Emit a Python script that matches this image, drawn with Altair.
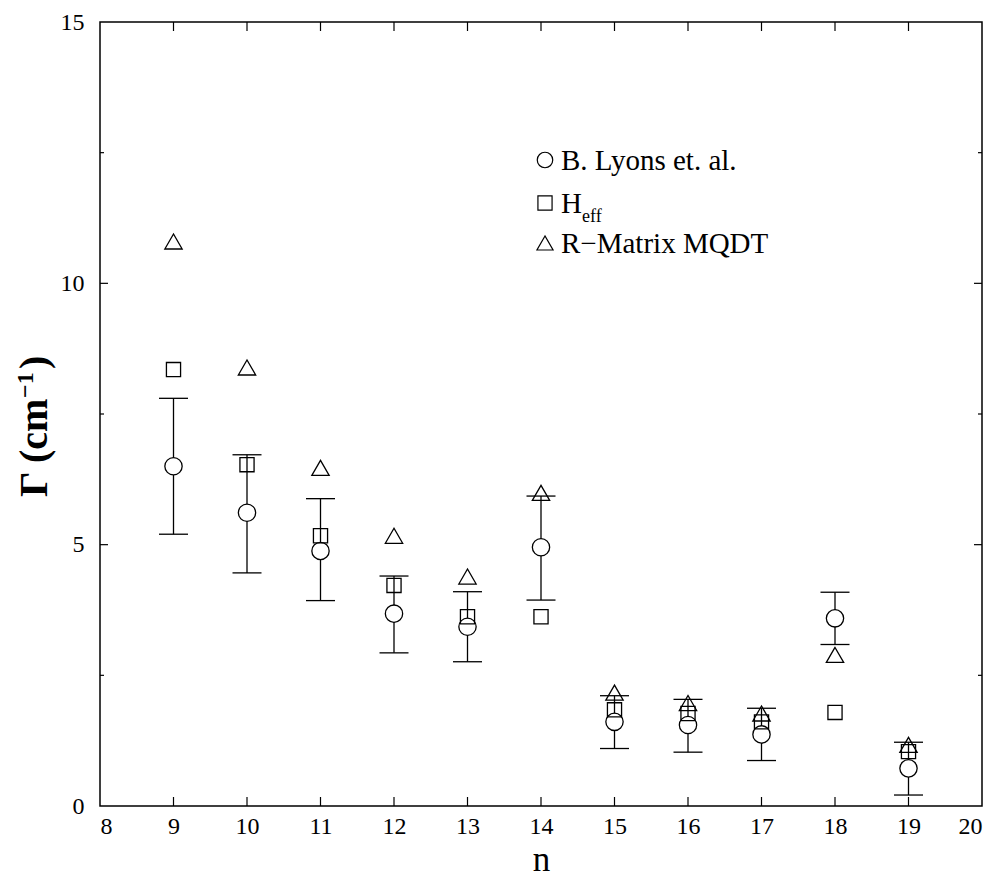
import altair as alt
import pandas as pd

n = [9, 10, 11, 12, 13, 14, 15, 16, 17, 18, 19]
lyons = [6.5, 5.61, 4.88, 3.68, 3.43, 4.95, 1.61, 1.55, 1.37, 3.59, 0.72]
lyons_hi = [7.8, 6.72, 5.88, 4.40, 4.10, 5.93, 2.11, 2.04, 1.87, 4.09, 1.22]
lyons_lo = [5.2, 4.46, 3.93, 2.93, 2.76, 3.94, 1.10, 1.03, 0.87, 3.09, 0.21]
heff = [8.35, 6.53, 5.17, 4.22, 3.62, 3.62, 1.84, 1.77, 1.61, 1.79, 1.04]
rmatrix = [10.8, 8.39, 6.47, 5.17, 4.39, 5.99, 2.17, 1.97, 1.77, 2.89, 1.17]

x_ticks = list(range(8, 21))
x_inner_ticks = list(range(9, 20))
y_major_labels = [0, 5, 10, 15]
y_major_inner = [5, 10]
y_minor = [2.5, 7.5, 12.5]

legend_labels = ["B. Lyons et. al.", "H", "R\u2212Matrix MQDT"]
ytitle_parts = ["\u0393 (cm", "\u22121", ")"]

FONT = "Liberation Serif"
W, H = 882, 784

df = pd.DataFrame({"n": n, "lyons": lyons, "hi": lyons_hi, "lo": lyons_lo,
                   "heff": heff, "rmat": rmatrix})

xs = alt.Scale(domain=[8, 20], nice=False, zero=False)
ys = alt.Scale(domain=[0, 15], nice=False, zero=False)

xaxis = alt.Axis(values=x_ticks, format="d", ticks=False, domain=False, grid=False,
                 labelFont=FONT, labelFontSize=24, labelColor="black", labelPadding=8,
                 title="n", titleFont=FONT, titleFontSize=35, titleFontWeight="normal",
                 titleColor="black", titleX=441, titleY=64, titleBaseline="alphabetic",
                 titleAlign="center")
yaxis = alt.Axis(values=y_major_labels, format="d", ticks=False, domain=False, grid=False,
                 labelFont=FONT, labelFontSize=24, labelColor="black", labelPadding=16,
                 title=None)

base = alt.Chart(df)

axes_layer = base.mark_point(opacity=0).encode(
    x=alt.X("n:Q", scale=xs, axis=xaxis),
    y=alt.Y("lyons:Q", scale=ys, axis=yaxis),
)

whisk = base.mark_rule(color="black", strokeWidth=1.3).encode(
    x=alt.X("n:Q", scale=xs), y=alt.Y("lo:Q", scale=ys), y2="hi:Q")
cap_hi = base.mark_rule(color="black", strokeWidth=1.3, xOffset=-14.5, x2Offset=14.5).encode(
    x=alt.X("n:Q", scale=xs), x2="n:Q", y=alt.Y("hi:Q", scale=ys))
cap_lo = base.mark_rule(color="black", strokeWidth=1.3, xOffset=-14.5, x2Offset=14.5).encode(
    x=alt.X("n:Q", scale=xs), x2="n:Q", y=alt.Y("lo:Q", scale=ys))

circ = base.mark_point(shape="circle", size=300, filled=False, fill="white", fillOpacity=1,
                       stroke="black", strokeWidth=1.3, opacity=1).encode(
    x=alt.X("n:Q", scale=xs), y=alt.Y("lyons:Q", scale=ys))
sq = base.mark_point(shape="square", size=200, filled=False, stroke="black",
                     strokeWidth=1.3, opacity=1).encode(
    x=alt.X("n:Q", scale=xs), y=alt.Y("heff:Q", scale=ys))
tri = base.mark_point(shape="triangle-up", size=300, filled=False, stroke="black",
                      strokeWidth=1.3, opacity=1).encode(
    x=alt.X("n:Q", scale=xs), y=alt.Y("rmat:Q", scale=ys))

# inward ticks
xt = pd.DataFrame({"t": x_inner_ticks})
xt_bot = alt.Chart(xt).mark_rule(color="black", strokeWidth=1.2).encode(
    x=alt.X("t:Q", scale=xs), y=alt.value(H), y2=alt.value(H - 9))
xt_top = alt.Chart(xt).mark_rule(color="black", strokeWidth=1.2).encode(
    x=alt.X("t:Q", scale=xs), y=alt.value(0), y2=alt.value(9))
ymj = pd.DataFrame({"t": y_major_inner})
ymn = pd.DataFrame({"t": y_minor})
yt_l = alt.Chart(ymj).mark_rule(color="black", strokeWidth=1.2).encode(
    y=alt.Y("t:Q", scale=ys), x=alt.value(0), x2=alt.value(8))
yt_r = alt.Chart(ymj).mark_rule(color="black", strokeWidth=1.2).encode(
    y=alt.Y("t:Q", scale=ys), x=alt.value(W), x2=alt.value(W - 8))
ytm_l = alt.Chart(ymn).mark_rule(color="black", strokeWidth=1.2).encode(
    y=alt.Y("t:Q", scale=ys), x=alt.value(0), x2=alt.value(4))
ytm_r = alt.Chart(ymn).mark_rule(color="black", strokeWidth=1.2).encode(
    y=alt.Y("t:Q", scale=ys), x=alt.value(W), x2=alt.value(W - 4))


def txt(label, size, x, y, weight="normal", angle=0, baseline="middle"):
    return alt.Chart(pd.DataFrame({"label": [label]})).mark_text(
        font=FONT, fontSize=size, fontWeight=weight, align="left", baseline=baseline,
        angle=angle, color="black").encode(
        text="label:N", x=alt.value(x), y=alt.value(y))


# y-axis title built from pieces (superscript)
yt1 = txt(ytitle_parts[0], 40, -53, 475, weight="bold", angle=270, baseline="alphabetic")
yt2 = txt(ytitle_parts[1], 24, -67, 376, weight="bold", angle=270, baseline="alphabetic")
yt3 = txt(ytitle_parts[2], 40, -53, 347, weight="bold", angle=270, baseline="alphabetic")

# legend
one = pd.DataFrame({"a": [0]})
lg_c = alt.Chart(one).mark_point(shape="circle", size=240, stroke="black", strokeWidth=1.2,
                                 filled=False, opacity=1).encode(x=alt.value(445), y=alt.value(138))
lg_s = alt.Chart(one).mark_point(shape="square", size=200, stroke="black", strokeWidth=1.2,
                                 filled=False, opacity=1).encode(x=alt.value(445), y=alt.value(181))
lg_t = alt.Chart(one).mark_point(shape="triangle-up", size=260, stroke="black", strokeWidth=1.2,
                                 filled=False, opacity=1).encode(x=alt.value(445), y=alt.value(221))
lg_t1 = txt(legend_labels[0], 29, 461, 139)
lg_t2 = txt(legend_labels[1], 29, 461, 182)
lg_t2b = txt("eff", 18, 482, 195)
lg_t3 = txt(legend_labels[2], 29, 461, 222)

chart = alt.layer(
    axes_layer, whisk, cap_hi, cap_lo, circ, sq, tri,
    xt_bot, xt_top, yt_l, yt_r, ytm_l, ytm_r,
    yt1, yt2, yt3,
    lg_c, lg_s, lg_t, lg_t1, lg_t2, lg_t2b, lg_t3,
).properties(
    width=W, height=H,
    autosize=alt.AutoSizeParams(type="none"),
    padding={"left": 92, "top": 14, "right": 9, "bottom": 72},
    background="white",
).configure_view(stroke="black", strokeWidth=1.5
).configure_axis(labelFont=FONT, titleFont=FONT)

chart.save("out.html", embed_options={"renderer": "svg", "actions": False})
